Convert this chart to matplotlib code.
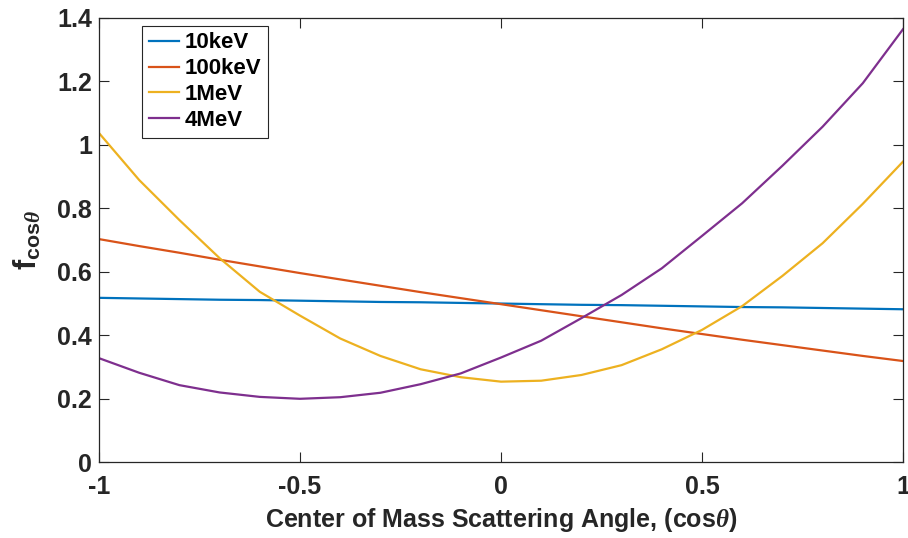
import numpy as np
import matplotlib.pyplot as plt

cos_theta = [-1.0, -0.9, -0.8, -0.7, -0.6, -0.5, -0.4, -0.3, -0.2, -0.1, 0.0,
             0.1, 0.2, 0.3, 0.4, 0.5, 0.6, 0.7, 0.8, 0.9, 1.0]

f_10kev = [0.518, 0.516, 0.514, 0.512, 0.511, 0.509, 0.507, 0.505, 0.504, 0.502, 0.500,
           0.498, 0.496, 0.495, 0.493, 0.491, 0.489, 0.488, 0.486, 0.484, 0.482]
f_100kev = [0.703, 0.681, 0.660, 0.638, 0.617, 0.596, 0.576, 0.556, 0.536, 0.517, 0.498,
            0.479, 0.460, 0.441, 0.422, 0.404, 0.386, 0.369, 0.352, 0.335, 0.319]
f_1mev = [1.037, 0.889, 0.763, 0.643, 0.537, 0.462, 0.390, 0.335, 0.293, 0.268, 0.254,
          0.257, 0.275, 0.306, 0.356, 0.417, 0.492, 0.587, 0.690, 0.814, 0.947]
f_4mev = [0.328, 0.282, 0.243, 0.220, 0.206, 0.200, 0.205, 0.219, 0.246, 0.280, 0.330,
          0.383, 0.454, 0.527, 0.611, 0.713, 0.816, 0.934, 1.057, 1.194, 1.364]

labels = ['10keV', '100keV', '1MeV', '4MeV']
colors = ['#0072BD', '#D95319', '#EDB120', '#7E2F8E']

plt.rcParams['font.family'] = ['Liberation Sans', 'DejaVu Sans']
plt.rcParams['font.weight'] = 'bold'
plt.rcParams['mathtext.fontset'] = 'custom'
plt.rcParams['mathtext.rm'] = 'Liberation Sans:bold'
plt.rcParams['mathtext.bf'] = 'Liberation Sans:bold'
plt.rcParams['mathtext.it'] = 'Liberation Serif:italic'

axc = '#262626'
fig = plt.figure(figsize=(9.08, 5.38), dpi=100)
ax = fig.add_axes([99 / 908, 1 - 462.3 / 538, 804 / 908, 444.5 / 538])

for y, lab, c in zip([f_10kev, f_100kev, f_1mev, f_4mev], labels, colors):
    ax.plot(cos_theta, y, color=c, lw=1.6, label=lab)

ax.set_xlim(-1, 1)
ax.set_ylim(0, 1.4)
ax.set_xticks([-1, -0.5, 0, 0.5, 1])
ax.set_xticklabels(['-1', '-0.5', '0', '0.5', '1'])
ax.set_yticks([0, 0.2, 0.4, 0.6, 0.8, 1.0, 1.2, 1.4])
ax.set_yticklabels(['0', '0.2', '0.4', '0.6', '0.8', '1', '1.2', '1.4'])
ax.tick_params(direction='in', top=True, right=True, length=7, width=0.8,
               colors=axc, labelsize=18)
ax.tick_params(axis='x', pad=9)
ax.tick_params(axis='y', pad=5)
for s in ax.spines.values():
    s.set_color(axc)
    s.set_linewidth(0.9)

ax.set_xlabel(r'Center of Mass Scattering Angle, (cos$\mathit{\theta}$)',
              fontsize=18, fontweight='bold', color=axc, labelpad=5)
ax.set_ylabel(r'f$_{\mathrm{cos}\mathit{\theta}}$', fontsize=22, fontweight='bold',
              color=axc, labelpad=10)

leg = ax.legend(loc='upper left', bbox_to_anchor=(0.054, 0.982), fontsize=16,
                handlelength=1.35, handletextpad=0.25, borderpad=0.3,
                labelspacing=0.22, borderaxespad=0, fancybox=False, framealpha=1)
leg.get_frame().set_edgecolor(axc)
leg.get_frame().set_linewidth(0.8)

fig.savefig('out.png', dpi=100)
